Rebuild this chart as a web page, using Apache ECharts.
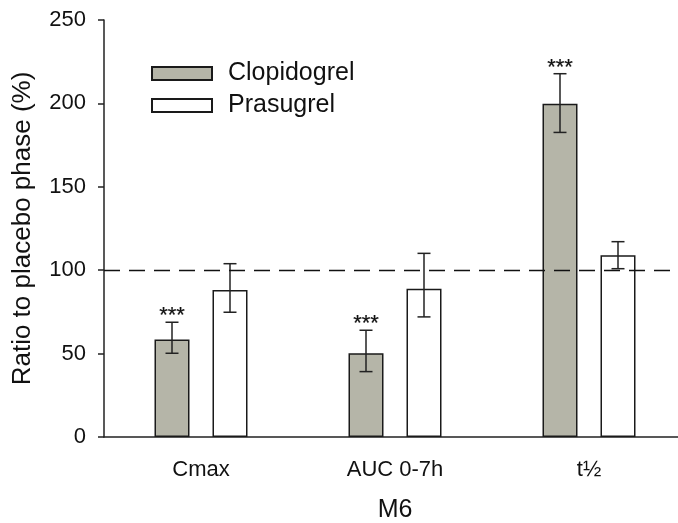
<!DOCTYPE html>
<html>
<head>
<meta charset="utf-8">
<script src="https://cdn.jsdelivr.net/npm/echarts@6/dist/echarts.min.js"></script>
<style>html,body{margin:0;padding:0;background:#fff}#c{width:678px;height:523px}</style>
</head>
<body>
<div id="c"></div>
<script>
const categories = ['Cmax', 'AUC 0-7h', 't½'];
const clopValues = [58.5, 50.2, 199.8];
const clopLower = [50.2, 39.2, 182.6];
const clopUpper = [68.8, 64.0, 217.8];
const clopSig = ['***', '***', '***'];
const prasValues = [88.1, 88.9, 108.9];
const prasLower = [74.8, 72.0, 100.9];
const prasUpper = [103.9, 110.1, 117.1];
const prasSig = ['', '', ''];
const yTicks = [0, 50, 100, 150, 200, 250];
const referenceLine = 100;

const FONT = 'Liberation Sans, Arial, sans-serif';
const BAR_W = 35;
const BAR_GAP_PX = 23;
const OFFSET = (BAR_W + BAR_GAP_PX) / 2;

function errSeries(name, lower, upper, sig, dir) {
  return {
    type: 'custom',
    name: name + '_err',
    z: 5,
    silent: true,
    data: categories.map((c, i) => [i, lower[i], upper[i], sig[i]]),
    renderItem: function (params, api) {
      const i = api.value(0);
      const lo = api.coord([i, api.value(1)]);
      const hi = api.coord([i, api.value(2)]);
      const x = lo[0] + dir * OFFSET;
      const cap = 6.5;
      const ls = { stroke: '#222', lineWidth: 1.5 };
      const children = [
        { type: 'line', shape: { x1: x, y1: lo[1], x2: x, y2: hi[1] }, style: ls },
        { type: 'line', shape: { x1: x - cap, y1: lo[1], x2: x + cap, y2: lo[1] }, style: ls },
        { type: 'line', shape: { x1: x - cap, y1: hi[1], x2: x + cap, y2: hi[1] }, style: ls }
      ];
      const s = sig[i];
      if (s) {
        children.push({ type: 'text', style: { text: s, x: x, y: hi[1] + 5, align: 'center', verticalAlign: 'bottom', font: '22px ' + FONT, fill: '#111', stroke: '#111', lineWidth: 0.2 } });
      }
      return { type: 'group', children: children };
    }
  };
}

const chart = echarts.init(document.getElementById('c'), null, { renderer: 'canvas' });
chart.setOption({
  animation: false,
  backgroundColor: '#fff',
  textStyle: { fontFamily: FONT },
  grid: { left: 104, top: 20, width: 582, height: 417, containLabel: false, outerBoundsMode: 'none' },
  legend: {
    orient: 'vertical',
    left: 151,
    top: 61,
    padding: 0,
    icon: 'rect',
    itemWidth: 60,
    itemHeight: 13,
    itemGap: 7,
    textStyle: { fontSize: 25, color: '#111', fontFamily: FONT, padding: [0, 0, 0, 11] },
    data: ['Clopidogrel', 'Prasugrel']
  },
  xAxis: {
    type: 'category',
    data: categories,
    name: 'M6',
    nameLocation: 'middle',
    nameGap: 61,
    nameTextStyle: { fontSize: 25, color: '#111', fontFamily: FONT },
    axisLine: { lineStyle: { color: '#222', width: 1.5 } },
    axisTick: { alignWithLabel: true, length: 6, lineStyle: { color: '#222', width: 1.5 } },
    axisLabel: { fontSize: 22, color: '#111', margin: 22, fontFamily: FONT }
  },
  yAxis: {
    type: 'value',
    min: yTicks[0],
    max: yTicks[yTicks.length - 1],
    interval: 50,
    name: 'Ratio to placebo phase (%)',
    nameLocation: 'middle',
    nameGap: 68,
    nameTextStyle: { fontSize: 26, color: '#111', fontFamily: FONT },
    splitLine: { show: false },
    axisLine: { show: true, lineStyle: { color: '#222', width: 1.5 } },
    axisTick: { show: true, length: 6, lineStyle: { color: '#222', width: 1.5 } },
    axisLabel: { fontSize: 22, color: '#111', margin: 18, fontFamily: FONT }
  },
  series: [
    {
      name: 'Clopidogrel',
      type: 'bar',
      data: clopValues,
      barWidth: BAR_W,
      barGap: (BAR_GAP_PX / BAR_W * 100) + '%',
      itemStyle: { color: '#b5b5a8', borderColor: '#1a1a1a', borderWidth: 1.5 },
      markLine: {
        silent: true,
        symbol: 'none',
        label: { show: false },
        lineStyle: { color: '#111', type: [16, 9], width: 1.3 },
        data: [{ yAxis: referenceLine }],
        z: 10
      }
    },
    {
      name: 'Prasugrel',
      type: 'bar',
      data: prasValues,
      barWidth: BAR_W,
      itemStyle: { color: '#ffffff', borderColor: '#1a1a1a', borderWidth: 1.5 }
    },
    errSeries('Clopidogrel', clopLower, clopUpper, clopSig, -1),
    errSeries('Prasugrel', prasLower, prasUpper, prasSig, 1)
  ]
});
</script>
</body>
</html>
